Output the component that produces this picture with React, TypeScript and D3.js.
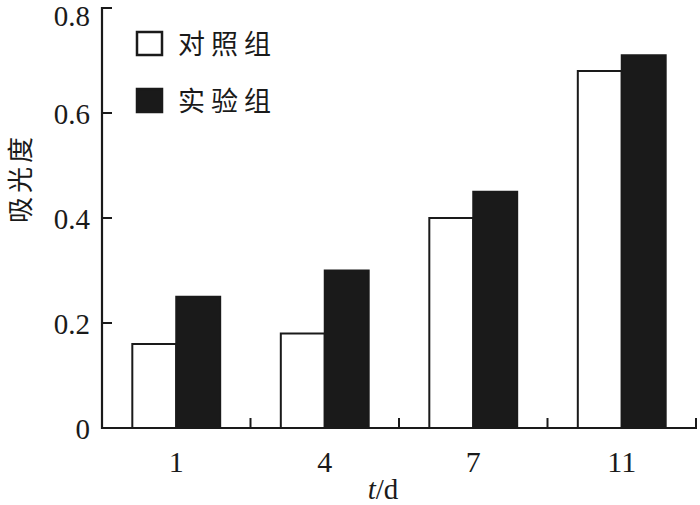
import React from "react";
import * as d3 from "d3";

const categories = ["1", "4", "7", "11"];
const seriesNames = ["对照组", "实验组"];
const controlValues = [0.16, 0.18, 0.4, 0.68];
const experimentValues = [0.25, 0.3, 0.45, 0.71];
const yTicks = [0, 0.2, 0.4, 0.6, 0.8];
const yTickLabels = ["0", "0.2", "0.4", "0.6", "0.8"];

const W = 700;
const H = 505;
const left = 102;
const right = 696;
const top = 8;
const bottom = 428;
const DARK = "#1a1a1a";

export default function App() {
  const x = d3.scaleBand<string>().domain(categories).range([left, right]).paddingInner(0).paddingOuter(0);
  const xs = d3.scaleBand<string>().domain(seriesNames).range([0, x.bandwidth()]).paddingInner(0).paddingOuter(0.69);
  const y = d3.scaleLinear().domain([0, 0.8]).range([bottom, top]);
  const seriesValues = [controlValues, experimentValues];
  const fills = ["#ffffff", DARK];

  const boundaries = categories.map((c) => x(c) as number).concat([right]);
  const serif = "'Liberation Serif', 'Times New Roman', serif";
  const cjk = "'Noto Sans CJK SC', sans-serif";

  return (
    <svg width={W} height={H} style={{ position: "absolute", left: 0, top: 0, background: "#fff" }}>
      {categories.map((c, i) =>
        seriesNames.map((s, j) => {
          const v = seriesValues[j][i];
          const bx = (x(c) as number) + (xs(s) as number);
          return (
            <rect
              key={c + s}
              x={bx}
              y={y(v)}
              width={xs.bandwidth()}
              height={bottom - y(v)}
              fill={fills[j]}
              stroke={DARK}
              strokeWidth={2}
            />
          );
        })
      )}
      <line x1={left} y1={top - 1} x2={left} y2={bottom + 1} stroke={DARK} strokeWidth={2.2} />
      <line x1={left - 1} y1={bottom} x2={right + 1} y2={bottom} stroke={DARK} strokeWidth={2.2} />
      {yTicks.map((t, i) => (
        <g key={"yt" + i}>
          <line x1={left} x2={left + 10} y1={y(t)} y2={y(t)} stroke={DARK} strokeWidth={2} />
          <text
            x={90}
            y={Math.max(y(t) + 11, 26)}
            textAnchor="end"
            fontFamily={serif}
            fontSize={29}
            fill={DARK}
          >
            {yTickLabels[i]}
          </text>
        </g>
      ))}
      {boundaries.map((b, i) => (
        <line key={"xt" + i} x1={b} x2={b} y1={bottom} y2={bottom - 10} stroke={DARK} strokeWidth={2} />
      ))}
      {categories.map((c) => (
        <text
          key={"xl" + c}
          x={(x(c) as number) + x.bandwidth() / 2}
          y={472}
          textAnchor="middle"
          fontFamily={serif}
          fontSize={30}
          fill={DARK}
        >
          {c}
        </text>
      ))}
      <text x={383} y={499} textAnchor="middle" fontFamily={serif} fontSize={29} fill={DARK}>
        <tspan fontStyle="italic">t</tspan>/d
      </text>
      <text
        transform="translate(30,178) rotate(-90)"
        textAnchor="middle"
        fontFamily={cjk}
        fontSize={26}
        letterSpacing={4}
        fill={DARK}
      >
        吸光度
      </text>
      {seriesNames.map((s, j) => (
        <g key={"lg" + s} transform={`translate(0, ${j * 57})`}>
          <rect x={137} y={32} width={25} height={23} fill={fills[j]} stroke={DARK} strokeWidth={2.5} />
          <text x={178} y={54} fontFamily={cjk} fontSize={27} letterSpacing={6} fill={DARK}>
            {s}
          </text>
        </g>
      ))}
    </svg>
  );
}
